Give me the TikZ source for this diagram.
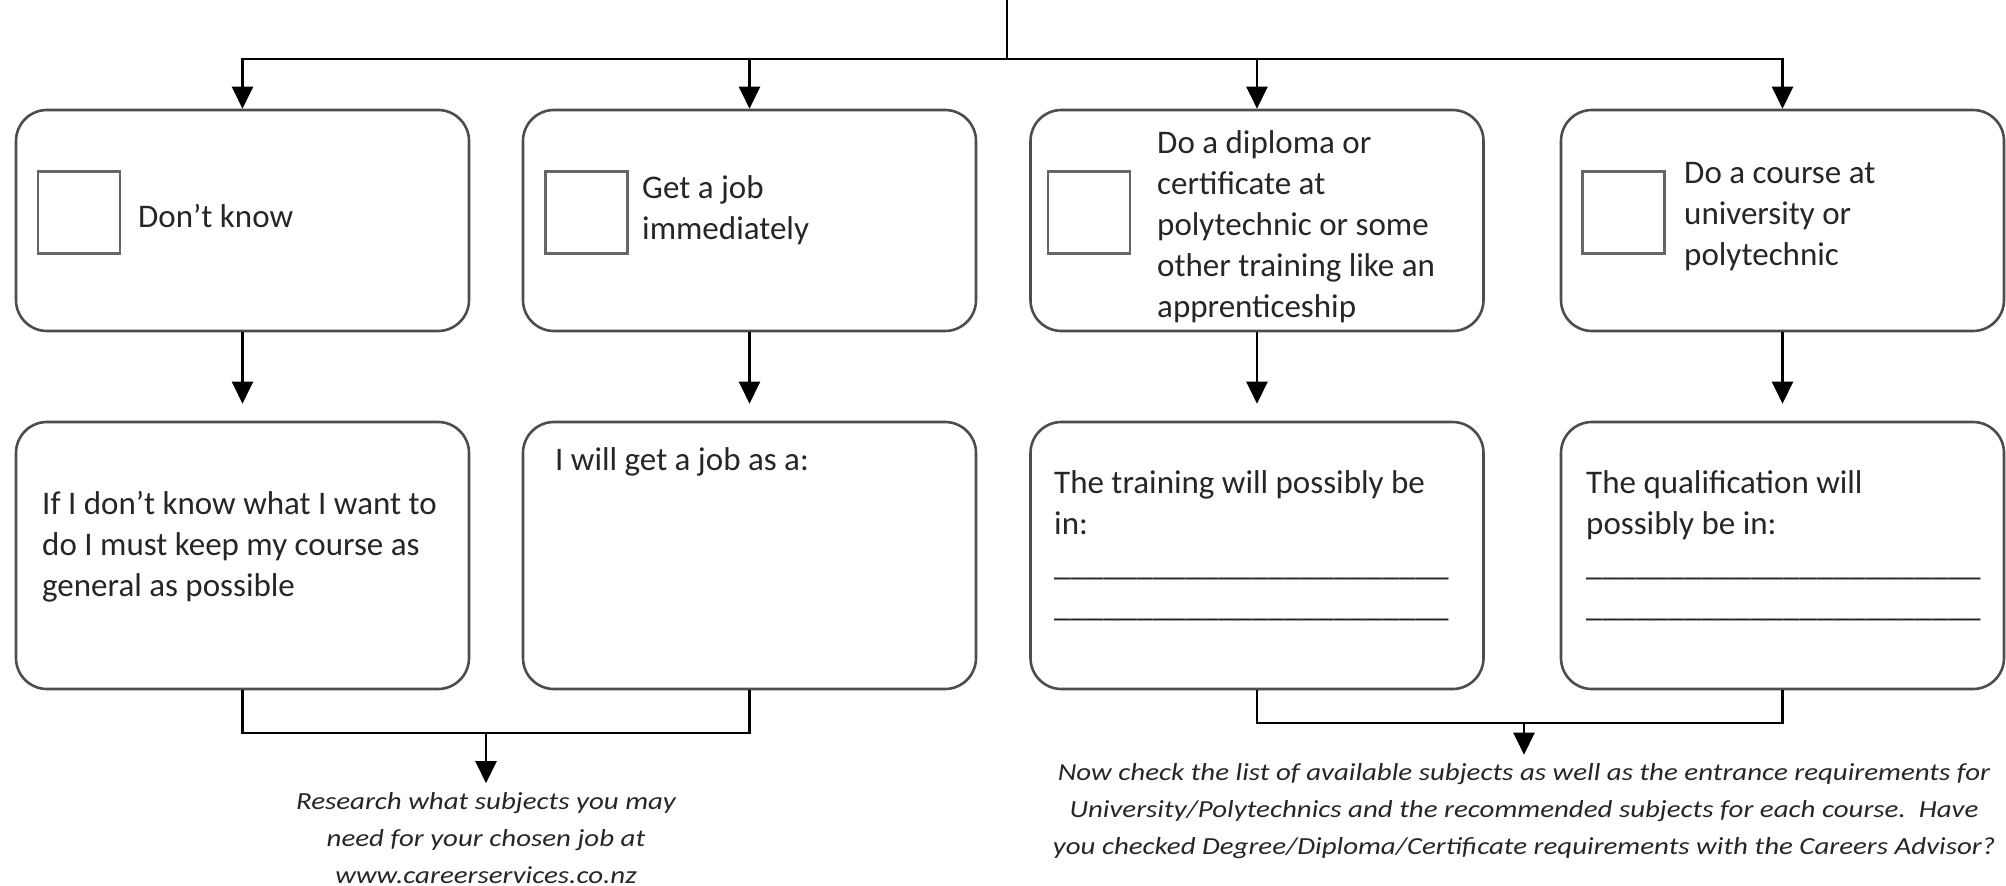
\documentclass[tikz,border=0pt]{standalone}
\usepackage{fontspec}
\setmainfont{Carlito}
\newfontfamily\notefont{Carlito}[FakeStretch=1.18]
\usetikzlibrary{arrows.meta}
\definecolor{txt}{HTML}{262626}
\definecolor{boxline}{HTML}{4D4D4D}
\definecolor{cbline}{HTML}{666666}
\newcommand{\blank}{\_\_\_\_\_\_\_\_\_\_\_\_\_\_\_\_\_\_\_\_\_\_\_\_}
\begin{document}
\begin{tikzpicture}[x=1pt,y=-1pt,
  roundbox/.style={draw=boxline, line width=2.6pt, rounded corners=31pt, minimum width=453pt, inner sep=0pt},
  topbox/.style={roundbox, minimum height=221pt},
  lowbox/.style={roundbox, minimum height=267pt},
  checkbox/.style={draw=cbline, line width=2.7pt, minimum size=82pt, inner sep=0pt},
  boxtext/.style={inner sep=0pt, align=left, text=txt, anchor=west, font=\fontsize{33}{41}\selectfont},
  notetext/.style={inner sep=0pt, align=center, text=txt, font=\notefont\itshape\fontsize{24.5}{37}\selectfont},
  conn/.style={draw=black, line width=2.3pt},
  arr/.style={conn, -{Triangle[length=22pt,width=21pt]}},
]
\useasboundingbox (0,0) rectangle (2006,886);

% top row boxes
\node[topbox] (b1) at (242.5,220.5) {};
\node[topbox] (b2) at (749.5,220.5) {};
\node[topbox] (b3) at (1257,220.5) {};
\node[topbox, minimum width=443pt] (b4) at (1782.5,220.5) {};

% bottom row boxes
\node[lowbox] (l1) at (242.5,555.5) {};
\node[lowbox] (l2) at (749.5,555.5) {};
\node[lowbox] (l3) at (1257,555.5) {};
\node[lowbox, minimum width=443pt] (l4) at (1782.5,555.5) {};

% check boxes
\node[checkbox] (c1) at (79,212.5) {};
\node[checkbox] (c2) at (586.5,212.5) {};
\node[checkbox] (c3) at (1089,212.5) {};
\node[checkbox] (c4) at (1623.5,212.5) {};

% texts in top boxes
\node[boxtext] (t1) at (138,216) {Don’t know};
\node[boxtext] (t2) at (642,210) {Get a job\\immediately};
\node[boxtext] (t3) at (1157,227) {Do a diploma or\\certificate at\\polytechnic or some\\other training like an\\apprenticeship};
\node[boxtext] (t4) at (1684,217) {Do a course at\\university or\\polytechnic};

% texts in bottom boxes
\node[boxtext] (u1) at (42,546.5) {If I don’t know what I want to\\do I must keep my course as\\general as possible};
\node[boxtext] (u2) at (555,462) {I will get a job as a:};
\node[boxtext] (u3) at (1054,546) {The training will possibly be\\in:\\\blank\\\blank};
\node[boxtext] (u4) at (1586,546) {The qualification will\\possibly be in:\\\blank\\\blank};

% notes
\node[notetext] (n1) at (486,838) {Research what subjects you may\\need for your chosen job at\\www.careerservices.co.nz};
\node[notetext] (n2) at (1524,811.5) {Now check the list of available subjects as well as the entrance requirements for\\University/Polytechnics and the recommended subjects for each course.\ \ Have\\you checked Degree/Diploma/Certificate requirements with the Careers Advisor?};

% top connectors
\coordinate (src) at (1007,0);
\coordinate (hub) at (1007,59);
\draw[conn] (src) -- (hub);
\draw[arr] (hub) -| (b1.north);
\draw[arr] (hub) -| (b2.north);
\draw[arr] (hub) -| (b3.north);
\draw[arr] (hub) -| (b4.north);

% middle arrows
\draw[arr, shorten >=17pt] (b1.south) -- (l1.north);
\draw[arr, shorten >=17pt] (b2.south) -- (l2.north);
\draw[arr, shorten >=17pt] (b3.south) -- (l3.north);
\draw[arr, shorten >=17pt] (b4.south) -- (l4.north);

% bottom connectors
\coordinate (jL) at (486,733);
\coordinate (jR) at (1524,723);
\draw[conn] (l1.south) |- (jL);
\draw[conn] (l2.south) |- (jL);
\draw[arr, shorten >=9pt] (jL) -- (n1.north);
\draw[conn] (l3.south) |- (jR);
\draw[conn] (l4.south) |- (jR);
\draw[arr, shorten >=9pt] (jR) -- (n2.north);
\end{tikzpicture}
\end{document}
